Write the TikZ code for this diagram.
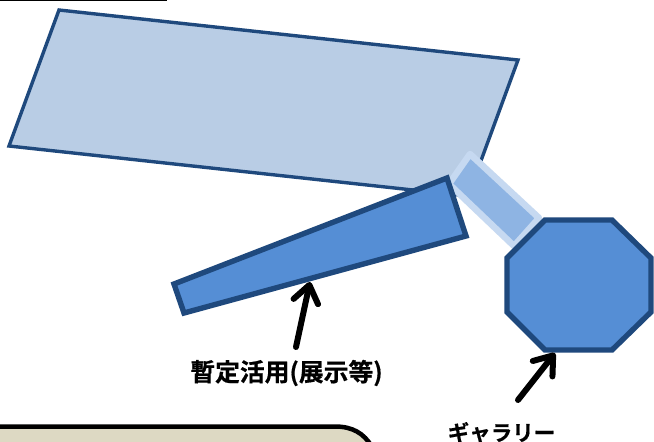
\documentclass[tikz,border=0pt]{standalone}
\usepackage{fontspec}
\newfontfamily\cjk[FakeBold=0.6]{Noto Sans CJK JP Bold}
\usetikzlibrary{arrows.meta}
\definecolor{edgeblue}{HTML}{1F497D}
\definecolor{palefill}{HTML}{B9CDE5}
\definecolor{midfill}{HTML}{558ED5}
\definecolor{barfill}{HTML}{8EB4E3}
\definecolor{barglow}{HTML}{C6D9F1}
\definecolor{beige}{HTML}{DDD9C3}
\tikzset{
  x=1pt,y=-1pt,
  room/.style={fill=palefill,draw=edgeblue,line width=3.4pt,line join=miter},
  solid room/.style={fill=midfill,draw=edgeblue,line width=5.4pt,line join=miter},
  pointer/.style={draw=black,line width=6pt,line cap=round,-{Straight Barb[length=17pt,width=25pt,line width=6pt,round]}},
  caption/.style={inner sep=0pt,text=black}
}
\begin{document}
\begin{tikzpicture}
\useasboundingbox (0,0) rectangle (654,442);
\fill[white] (0,0) rectangle (654,442);
\draw[black,line width=1.6pt] (0,0.5) -- (167,0.5);
\path[room] (59,10) -- (518,60) -- (468,196) -- (9,146) -- cycle;
\path[fill=barfill,draw=barglow,line width=6.5pt,line join=round] (470,154) -- (539,218) -- (514,246) -- (449,184) -- cycle;
\path[solid room] (447,178) -- (466,236) -- (184,313) -- (174,284) -- cycle;
\path[solid room] (545,220) -- (612,220) -- (651,258) -- (651,312) -- (612,350) -- (545,350) -- (507,312) -- (507,258) -- cycle;
\path[fill=beige,draw=black,line width=4.5pt] (-20,470) -- (-20,426.5) -- (335,426.5) .. controls (352,426.5) and (364,433) .. (372,447) -- (372,470) -- cycle;
\coordinate (wedgefoot) at (296,347);
\coordinate (wedgetip) at (310,282);
\coordinate (galleryfoot) at (518,400);
\coordinate (gallerytip) at (555,353);
\draw[pointer] (wedgefoot) -- (wedgetip);
\draw[pointer] (galleryfoot) -- (gallerytip);
\node[caption,font=\cjk\fontsize{24.8}{26}\selectfont] (wedgelabel) at (286.5,373) {暫定活用(展示等)};
\node[caption,font=\cjk\fontsize{21.5}{24}\selectfont] (gallerylabel) at (501.5,432.5) {ギャラリー};
\end{tikzpicture}
\end{document}
